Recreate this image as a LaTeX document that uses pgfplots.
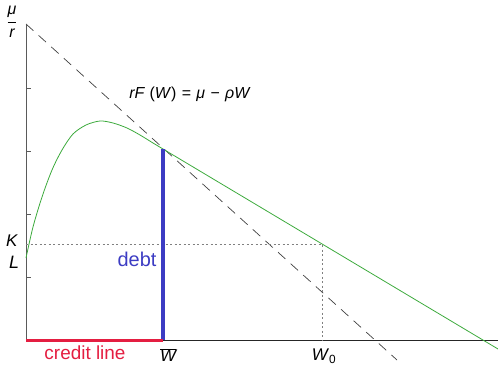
\documentclass[border=0pt]{standalone}
\usepackage{pgfplots}
\pgfplotsset{compat=1.18}
\usepackage{fontspec}
\setmainfont{Liberation Sans}
\definecolor{valgreen}{RGB}{60,170,60}
\definecolor{debtblue}{RGB}{60,60,195}
\definecolor{creditred}{RGB}{228,30,65}
\definecolor{axisgray}{RGB}{90,90,90}

\begin{document}
\begin{tikzpicture}
\begin{axis}[
  x=1bp, y=1bp,
  xmin=-26, xmax=472, ymin=-24, ymax=340,
  hide axis, clip=false,
]
% axes
\addplot[axisgray, line width=0.9pt] coordinates {(0,0) (0,315)};
\addplot[black!85, line width=0.9pt] coordinates {(0,0) (472,0)};
% y ticks
\foreach \t in {63,126,189,252} {
  \edef\tmp{\noexpand\addplot[axisgray, line width=0.8pt] coordinates {(0,\t) (5,\t)};}
  \tmp
}
% line rF(W) = mu - rho W
\addplot[black!75, line width=0.7pt, dash pattern=on 10bp off 7bp]
  coordinates {(0,316) (371,-20)};
% value function F(W)
\addplot[valgreen, line width=0.8pt, smooth, tension=0.5] coordinates {
  (0,82) (7,113) (16,143) (26,170) (36,190) (47,206) (60,215)
  (74,219) (87,217) (101,212) (114,205) (127,197) (137,191)
};
\addplot[valgreen, line width=0.8pt] coordinates {(137,191) (472,-9)};
% K level and W0
\addplot[gray, line width=0.8pt, dash pattern=on 2bp off 2.5bp]
  coordinates {(0,96) (296,96) (296,0)};
% debt and credit line
\addplot[debtblue, line width=3.2pt] coordinates {(137,0) (137,191)};
\addplot[creditred, line width=3pt] coordinates {(0,0) (137,0)};
% labels
\node[font=\fontsize{16}{18}\selectfont] at (axis cs:-14,318)
  {$\displaystyle\frac{\textit{μ}}{\textit{r}}$};
\node[font=\fontsize{17}{18}\selectfont] at (axis cs:-14,99) {\textit{K}};
\node[font=\fontsize{18}{18}\selectfont] at (axis cs:-12,78) {\textit{L}};
\node[font=\fontsize{16}{18}\selectfont] at (axis cs:164,246)
  {\textit{rF} (\textit{W})\,\,=\,\,\textit{μ}\,\,−\,\,\textit{ρW}};
\node[font=\fontsize{20}{22}\selectfont, text=debtblue] at (axis cs:111,81) {debt};
\node[font=\fontsize{19}{21}\selectfont, text=creditred, inner sep=0pt] at (axis cs:59,-13) {credit line};
\node[font=\fontsize{17}{18}\selectfont] at (axis cs:142,-15) {$\overline{\textit{W}}$};
\node[font=\fontsize{17}{18}\selectfont] at (axis cs:298,-16) {\textit{W}\textsubscript{0}};
\coordinate (bl) at (axis cs:-26,-24);
\coordinate (tr) at (axis cs:472,340);
\end{axis}
\pgfresetboundingbox
\useasboundingbox (bl) rectangle (tr);
\end{tikzpicture}
\end{document}
